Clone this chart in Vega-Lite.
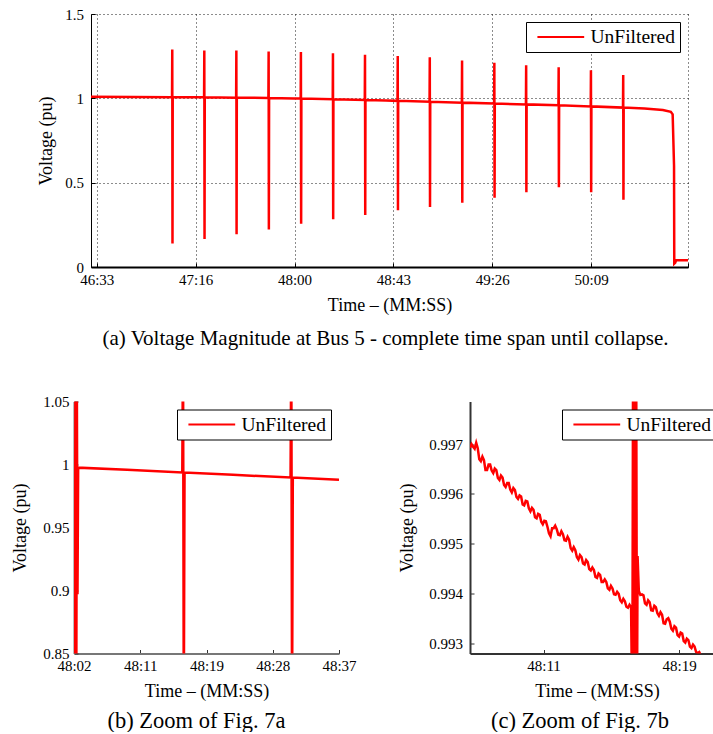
{
  "$schema": "https://vega.github.io/schema/vega-lite/v6.json",
  "background": "white",
  "padding": {"left": 11, "top": 7, "right": 0, "bottom": 0},
  "config": {
    "view": {"stroke": null},
    "axis": {"labelFont": "Times New Roman, Liberation Serif, serif", "titleFont": "Times New Roman, Liberation Serif, serif", "labelFontSize": 15, "titleFontSize": 18, "titleFontWeight": "normal", "labelColor": "#000", "titleColor": "#000", "labelFlush": false, "labelOverlap": false, "grid": false, "format": "~g"},
    "legend": {"orient": "top-right", "offset": 8, "symbolType": "M-2.7,0H2.7", "symbolSize": 300, "symbolStrokeWidth": 2, "labelFontSize": 19.5, "labelFont": "Times New Roman, Liberation Serif, serif", "labelColor": "#000", "fillColor": "#fff", "strokeColor": "#000", "padding": 5, "symbolOffset": 19.8, "labelOffset": 19.7},
    "title": {"font": "Times New Roman, Liberation Serif, serif", "fontWeight": "normal", "orient": "bottom", "color": "#000", "anchor": "middle"}
  },
  "datasets": {
    "a": [
      {"t": 2791.2, "v": 1.0098}, {"t": 2810, "v": 1.0085},
      {"t": 2826.6, "v": 1.007}, {"t": 2826.7, "v": 1.29}, {"t": 2826.8, "v": 0.14}, {"t": 2826.9, "v": 1.007},
      {"t": 2840.6, "v": 1.0058}, {"t": 2840.7, "v": 1.283}, {"t": 2840.8, "v": 0.166}, {"t": 2840.9, "v": 1.0058},
      {"t": 2854.6, "v": 1.0041}, {"t": 2854.7, "v": 1.283}, {"t": 2854.8, "v": 0.194}, {"t": 2854.9, "v": 1.0041},
      {"t": 2860, "v": 1.0035},
      {"t": 2868.7, "v": 1.0017}, {"t": 2868.8, "v": 1.277}, {"t": 2868.9, "v": 0.223}, {"t": 2869.0, "v": 1.0017},
      {"t": 2880, "v": 0.9995},
      {"t": 2882.8, "v": 0.9986}, {"t": 2882.9, "v": 1.275}, {"t": 2883.0, "v": 0.257}, {"t": 2883.1, "v": 0.9986},
      {"t": 2896.8, "v": 0.9944}, {"t": 2896.9, "v": 1.267}, {"t": 2897.0, "v": 0.283}, {"t": 2897.1, "v": 0.9944},
      {"t": 2910.8, "v": 0.9897}, {"t": 2910.9, "v": 1.259}, {"t": 2911.0, "v": 0.308}, {"t": 2911.1, "v": 0.9897},
      {"t": 2920, "v": 0.987},
      {"t": 2925.1, "v": 0.9851}, {"t": 2925.2, "v": 1.251}, {"t": 2925.3, "v": 0.336}, {"t": 2925.4, "v": 0.9851},
      {"t": 2939.1, "v": 0.98}, {"t": 2939.2, "v": 1.243}, {"t": 2939.3, "v": 0.356}, {"t": 2939.4, "v": 0.98},
      {"t": 2953.2, "v": 0.9744}, {"t": 2953.3, "v": 1.225}, {"t": 2953.4, "v": 0.381}, {"t": 2953.5, "v": 0.9744},
      {"t": 2967.3, "v": 0.969}, {"t": 2967.4, "v": 1.211}, {"t": 2967.5, "v": 0.411}, {"t": 2967.6, "v": 0.969},
      {"t": 2981.2, "v": 0.964}, {"t": 2981.3, "v": 1.196}, {"t": 2981.4, "v": 0.443}, {"t": 2981.5, "v": 0.964},
      {"t": 2995.4, "v": 0.959}, {"t": 2995.5, "v": 1.184}, {"t": 2995.6, "v": 0.473}, {"t": 2995.7, "v": 0.959},
      {"t": 3009.5, "v": 0.9522}, {"t": 3009.6, "v": 1.166}, {"t": 3009.7, "v": 0.443}, {"t": 3009.8, "v": 0.9522},
      {"t": 3023.6, "v": 0.945}, {"t": 3023.7, "v": 1.138}, {"t": 3023.8, "v": 0.399}, {"t": 3023.9, "v": 0.945},
      {"t": 3033, "v": 0.939}, {"t": 3041, "v": 0.931}, {"t": 3044.5, "v": 0.92}, {"t": 3045.3, "v": 0.905},
      {"t": 3045.9, "v": 0.6}, {"t": 3046.0, "v": 0.02}, {"t": 3046.4, "v": 0.025}, {"t": 3046.8, "v": 0.04}, {"t": 3052.0, "v": 0.04}
    ],
    "b": [
      {"t": 2882.0, "v": 0.9977}, {"t": 2882.1, "v": 0.8}, {"t": 2882.2, "v": 1.1}, {"t": 2882.3, "v": 0.8},
      {"t": 2882.38, "v": 1.06}, {"t": 2882.46, "v": 0.897}, {"t": 2882.55, "v": 0.9975},
      {"t": 2889.0, "v": 0.9958}, {"t": 2896.3, "v": 0.9937}, {"t": 2896.4, "v": 1.1}, {"t": 2896.5, "v": 0.8}, {"t": 2896.6, "v": 0.9936},
      {"t": 2903.0, "v": 0.9918}, {"t": 2910.6, "v": 0.9897}, {"t": 2910.7, "v": 1.1}, {"t": 2910.8, "v": 0.8}, {"t": 2910.9, "v": 0.9896},
      {"t": 2917.0, "v": 0.9879}
    ],
    "c": [
      {"t": 2886.0, "v": 0.99693}, {"t": 2886.1, "v": 0.997}, {"t": 2886.2, "v": 0.99695}, {"t": 2886.3, "v": 0.99691},
      {"t": 2886.4, "v": 0.99703}, {"t": 2886.5, "v": 0.99692}, {"t": 2886.6, "v": 0.9967}, {"t": 2886.7, "v": 0.99666},
      {"t": 2886.8, "v": 0.99675}, {"t": 2886.9, "v": 0.99668}, {"t": 2887.0, "v": 0.99648}, {"t": 2887.1, "v": 0.99648},
      {"t": 2887.2, "v": 0.99659}, {"t": 2887.3, "v": 0.99659}, {"t": 2887.4, "v": 0.99647}, {"t": 2887.5, "v": 0.99642},
      {"t": 2887.6, "v": 0.99651}, {"t": 2887.7, "v": 0.99648}, {"t": 2887.8, "v": 0.99632}, {"t": 2887.9, "v": 0.99628},
      {"t": 2888.0, "v": 0.99637}, {"t": 2888.1, "v": 0.99633}, {"t": 2888.2, "v": 0.99618}, {"t": 2888.3, "v": 0.99614},
      {"t": 2888.4, "v": 0.99622}, {"t": 2888.5, "v": 0.99622}, {"t": 2888.6, "v": 0.99609}, {"t": 2888.7, "v": 0.99603},
      {"t": 2888.8, "v": 0.99612}, {"t": 2888.9, "v": 0.99608}, {"t": 2889.0, "v": 0.99594}, {"t": 2889.1, "v": 0.9959},
      {"t": 2889.2, "v": 0.99597}, {"t": 2889.3, "v": 0.99595}, {"t": 2889.4, "v": 0.99579}, {"t": 2889.5, "v": 0.99577},
      {"t": 2889.6, "v": 0.99586}, {"t": 2889.7, "v": 0.99585}, {"t": 2889.8, "v": 0.99571}, {"t": 2889.9, "v": 0.99565},
      {"t": 2890.0, "v": 0.99572}, {"t": 2890.1, "v": 0.99568}, {"t": 2890.2, "v": 0.99553}, {"t": 2890.3, "v": 0.99551},
      {"t": 2890.4, "v": 0.9956}, {"t": 2890.5, "v": 0.99558}, {"t": 2890.6, "v": 0.99544}, {"t": 2890.7, "v": 0.99539},
      {"t": 2890.8, "v": 0.99546}, {"t": 2890.9, "v": 0.99545}, {"t": 2891.0, "v": 0.99534}, {"t": 2891.1, "v": 0.99521},
      {"t": 2891.2, "v": 0.99515}, {"t": 2891.3, "v": 0.99531}, {"t": 2891.4, "v": 0.99531}, {"t": 2891.5, "v": 0.99536},
      {"t": 2891.6, "v": 0.99529}, {"t": 2891.7, "v": 0.99518}, {"t": 2891.8, "v": 0.99517}, {"t": 2891.9, "v": 0.99525},
      {"t": 2892.0, "v": 0.99519}, {"t": 2892.1, "v": 0.99507}, {"t": 2892.2, "v": 0.99506}, {"t": 2892.3, "v": 0.99514},
      {"t": 2892.4, "v": 0.99508}, {"t": 2892.5, "v": 0.99491}, {"t": 2892.6, "v": 0.99486}, {"t": 2892.7, "v": 0.99493},
      {"t": 2892.8, "v": 0.99487}, {"t": 2892.9, "v": 0.99473}, {"t": 2893.0, "v": 0.99468}, {"t": 2893.1, "v": 0.99477},
      {"t": 2893.2, "v": 0.99473}, {"t": 2893.3, "v": 0.9946}, {"t": 2893.4, "v": 0.99458}, {"t": 2893.5, "v": 0.99467},
      {"t": 2893.6, "v": 0.99463}, {"t": 2893.7, "v": 0.99449}, {"t": 2893.8, "v": 0.99446}, {"t": 2893.9, "v": 0.99452},
      {"t": 2894.0, "v": 0.99447}, {"t": 2894.1, "v": 0.99433}, {"t": 2894.2, "v": 0.99431}, {"t": 2894.3, "v": 0.9944},
      {"t": 2894.4, "v": 0.99437}, {"t": 2894.5, "v": 0.99423}, {"t": 2894.6, "v": 0.99423}, {"t": 2894.7, "v": 0.99428},
      {"t": 2894.8, "v": 0.99423}, {"t": 2894.9, "v": 0.9941}, {"t": 2895.0, "v": 0.99407}, {"t": 2895.1, "v": 0.99415},
      {"t": 2895.2, "v": 0.9941}, {"t": 2895.3, "v": 0.99398}, {"t": 2895.4, "v": 0.99397}, {"t": 2895.5, "v": 0.99403},
      {"t": 2895.6, "v": 0.99399}, {"t": 2895.7, "v": 0.99386}, {"t": 2895.8, "v": 0.99382}, {"t": 2895.9, "v": 0.99389},
      {"t": 2896.0, "v": 0.99384}, {"t": 2896.1, "v": 0.99373}, {"t": 2896.2, "v": 0.99371}, {"t": 2896.3, "v": 0.99377},
      {"t": 2896.4, "v": 0.99372},
      {"t": 2896.48, "v": 0.9915}, {"t": 2896.53, "v": 0.999}, {"t": 2896.58, "v": 0.9915}, {"t": 2896.63, "v": 0.999},
      {"t": 2896.68, "v": 0.9915}, {"t": 2896.73, "v": 0.999}, {"t": 2896.78, "v": 0.9915}, {"t": 2896.82, "v": 0.99475},
      {"t": 2896.9, "v": 0.99405}, {"t": 2897.0, "v": 0.99397}, {"t": 2897.1, "v": 0.99398}, {"t": 2897.2, "v": 0.99396},
      {"t": 2897.3, "v": 0.9938}, {"t": 2897.4, "v": 0.99377}, {"t": 2897.5, "v": 0.99386}, {"t": 2897.6, "v": 0.99382},
      {"t": 2897.7, "v": 0.99366}, {"t": 2897.8, "v": 0.99365}, {"t": 2897.9, "v": 0.99375}, {"t": 2898.0, "v": 0.99372},
      {"t": 2898.1, "v": 0.9936}, {"t": 2898.2, "v": 0.99355}, {"t": 2898.3, "v": 0.99362}, {"t": 2898.4, "v": 0.99357},
      {"t": 2898.5, "v": 0.9934}, {"t": 2898.6, "v": 0.99339}, {"t": 2898.7, "v": 0.99348}, {"t": 2898.8, "v": 0.9935},
      {"t": 2898.9, "v": 0.99343}, {"t": 2899.0, "v": 0.99329}, {"t": 2899.1, "v": 0.99325}, {"t": 2899.2, "v": 0.99334},
      {"t": 2899.3, "v": 0.99331}, {"t": 2899.4, "v": 0.99316}, {"t": 2899.5, "v": 0.99313}, {"t": 2899.6, "v": 0.99321},
      {"t": 2899.7, "v": 0.99319}, {"t": 2899.8, "v": 0.99304}, {"t": 2899.9, "v": 0.99301}, {"t": 2900.0, "v": 0.99309},
      {"t": 2900.1, "v": 0.99306}, {"t": 2900.2, "v": 0.99293}, {"t": 2900.3, "v": 0.9929}, {"t": 2900.4, "v": 0.99297},
      {"t": 2900.5, "v": 0.99293}, {"t": 2900.6, "v": 0.99282}, {"t": 2900.7, "v": 0.9928}, {"t": 2900.8, "v": 0.99282},
      {"t": 2900.9, "v": 0.99275}, {"t": 2901.0, "v": 0.9927}
    ]
  },
  "vconcat": [
    {
      "spacing": 0,
      "bounds": "flush",
      "hconcat": [
        {"width": 17, "height": 253, "data": {"values": []}, "mark": {"type": "point"}},
        {
          "width": 597, "height": 253,
          "data": {"name": "a"},
          "mark": {"type": "line", "strokeWidth": 2.5, "clip": true},
          "encoding": {
            "x": {"field": "t", "type": "quantitative", "title": "Time – (MM:SS)",
              "scale": {"domain": [2791.2, 3052.0], "nice": false, "zero": false},
              "axis": {"values": [2793.7, 2836.9, 2880.1, 2923.3, 2966.5, 3009.7, 3052.0],
                "labelExpr": "datum.value > 3050 ? '' : floor(datum.value/60) + ':' + (floor(datum.value%60) < 10 ? '0' : '') + floor(datum.value%60)",
                "grid": true, "gridDash": [1, 3], "gridColor": "#000", "gridOpacity": 0.9,
                "domainColor": "#000", "domainWidth": 2, "tickColor": "#000", "tickSize": -4, "labelPadding": 9, "titlePadding": 9}},
            "y": {"field": "v", "type": "quantitative", "title": "Voltage (pu)",
              "scale": {"domain": [0, 1.5], "nice": false},
              "axis": {"values": [0, 0.5, 1, 1.5], "grid": true, "gridDash": [1, 3], "gridColor": "#000", "gridOpacity": 0.9,
                "domainColor": "#000", "domainWidth": 1, "tickColor": "#000", "tickSize": -4, "labelPadding": 11.5, "titlePadding": 9}},
            "color": {"datum": "UnFiltered", "scale": {"range": ["#ff0000"]}, "legend": {"title": null}}
          },
          "title": {"text": "(a) Voltage Magnitude at Bus 5 - complete time span until collapse.", "dx": -4, "offset": 14, "fontSize": 21}
        }
      ],
      "resolve": {"scale": {"color": "independent"}, "legend": {"color": "independent"}}
    },
    {
      "spacing": 41,
      "hconcat": [
        {
          "width": 265, "height": 252,
          "data": {"name": "b"},
          "mark": {"type": "line", "strokeWidth": 2.5, "clip": true},
          "encoding": {
            "x": {"field": "t", "type": "quantitative", "title": "Time – (MM:SS)",
              "scale": {"domain": [2882, 2917], "nice": false, "zero": false},
              "axis": {"values": [2882, 2890.75, 2899.5, 2908.25, 2917],
                "labelExpr": "floor(datum.value/60) + ':' + (floor(datum.value%60 + 0.3) < 10 ? '0' : '') + floor(datum.value%60 + 0.3)",
                "domainColor": "#777", "domainWidth": 2, "tickColor": "#333", "tickSize": -4, "labelPadding": 9, "titlePadding": 9}},
            "y": {"field": "v", "type": "quantitative", "title": "Voltage (pu)",
              "scale": {"domain": [0.85, 1.05], "nice": false, "zero": false},
              "axis": {"values": [0.85, 0.9, 0.95, 1, 1.05], "domainColor": "#777", "domainWidth": 2, "tickColor": "#333", "tickSize": -4, "labelPadding": 9, "titlePadding": 13}},
            "color": {"datum": "UnFiltered", "scale": {"range": ["#ff0000"]}, "legend": {"title": null}}
          },
          "title": {"text": "(b) Zoom of Fig. 7a", "dx": -10, "offset": 9, "fontSize": 22.5}
        },
        {
          "width": 254, "height": 252,
          "data": {"name": "c"},
          "mark": {"type": "line", "strokeWidth": 2.5, "clip": true},
          "encoding": {
            "x": {"field": "t", "type": "quantitative", "title": "Time – (MM:SS)",
              "scale": {"domain": [2886.0, 2902.4], "nice": false, "zero": false},
              "axis": {"values": [2890.75, 2899.5],
                "labelExpr": "floor(datum.value/60) + ':' + (floor(datum.value%60 + 0.3) < 10 ? '0' : '') + floor(datum.value%60 + 0.3)",
                "domainColor": "#333", "domainWidth": 2, "tickColor": "#333", "tickSize": -4, "labelPadding": 9, "titlePadding": 9}},
            "y": {"field": "v", "type": "quantitative", "title": "Voltage (pu)",
              "scale": {"domain": [0.99279, 0.99786], "nice": false, "zero": false},
              "axis": {"values": [0.993, 0.994, 0.995, 0.996, 0.997], "format": ".3f", "domainColor": "#333", "domainWidth": 2, "tickColor": "#333", "tickSize": -4, "labelPadding": 11.5, "titlePadding": 12}},
            "color": {"datum": "UnFiltered", "scale": {"range": ["#ff0000"]}, "legend": {"title": null}}
          },
          "title": {"text": "(c) Zoom of Fig. 7b", "dx": -17, "offset": 9, "fontSize": 22.5}
        }
      ],
      "resolve": {"scale": {"color": "independent"}, "legend": {"color": "independent"}}
    }
  ],
  "bounds": "flush",
  "spacing": 387.5,
  "resolve": {"scale": {"color": "independent"}, "legend": {"color": "independent"}}
}
